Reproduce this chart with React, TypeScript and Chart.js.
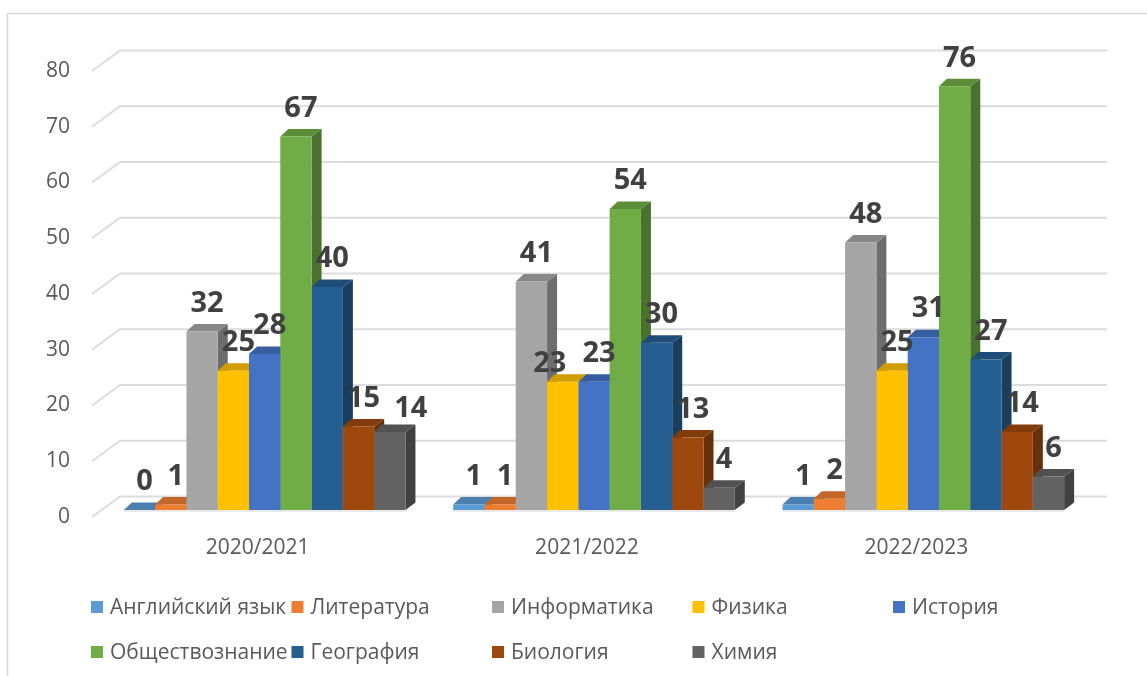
import React, { useEffect, useRef } from "react";
import { Chart, registerables } from "chart.js";

Chart.register(...registerables);

const categories = ["2020/2021", "2021/2022", "2022/2023"];
const seriesNames = [
  "Английский язык",
  "Литература",
  "Информатика",
  "Физика",
  "История",
  "Обществознание",
  "География",
  "Биология",
  "Химия",
];
const english = [0, 1, 1];
const literature = [1, 1, 2];
const informatics = [32, 41, 48];
const physics = [25, 23, 25];
const history = [28, 23, 31];
const socialStudies = [67, 54, 76];
const geography = [40, 30, 27];
const biology = [15, 13, 14];
const chemistry = [14, 4, 6];
const seriesValues = [english, literature, informatics, physics, history, socialStudies, geography, biology, chemistry];
const seriesColors = ["#5B9BD5", "#ED7D31", "#A5A5A5", "#FFC000", "#4472C4", "#70AD47", "#255E91", "#9E480E", "#636363"];
const yTicks = [0, 10, 20, 30, 40, 50, 60, 70, 80];

const FONT = '"Open Sans", "Liberation Sans", sans-serif';
const DX_L = 8;
const DX_R = 10;
const DY = 7.5;

function shade(hex: string, f: number) {
  const n = parseInt(hex.slice(1), 16);
  const r = Math.round(((n >> 16) & 255) * f);
  const g = Math.round(((n >> 8) & 255) * f);
  const b = Math.round((n & 255) * f);
  return `rgb(${r},${g},${b})`;
}

const decorPlugin = {
  id: "decor",
  beforeDraw(chart: any) {
    const ctx = chart.ctx;
    const area = chart.chartArea;
    const ys = chart.scales.y;
    const xs = chart.scales.x;
    ctx.save();
    // outer border
    ctx.strokeStyle = "#D9D9D9";
    ctx.lineWidth = 1.5;
    ctx.beginPath();
    ctx.moveTo(7.5, 676);
    ctx.lineTo(7.5, 13.5);
    ctx.lineTo(1147, 13.5);
    ctx.stroke();
    // walls / gridlines
    ctx.strokeStyle = "#DCDCDC";
    ctx.lineWidth = 2;
    const wallL = area.left + 20;
    const wallR = area.right + 19;
    const frontL = area.left - 8;
    yTicks.forEach((v) => {
      const y = ys.getPixelForValue(v);
      ctx.beginPath();
      ctx.moveTo(frontL, y + 7);
      ctx.lineTo(wallL, y - 13.5);
      ctx.lineTo(wallR, y - 13.5);
      ctx.stroke();
    });
    // y labels
    ctx.fillStyle = "#595959";
    ctx.font = `21px ${FONT}`;
    ctx.textAlign = "right";
    ctx.textBaseline = "middle";
    yTicks.forEach((v) => {
      const y = ys.getPixelForValue(v);
      ctx.fillText(String(v), 70, y + 7);
    });
    // category labels
    ctx.textAlign = "center";
    categories.forEach((c, i) => {
      const x = xs.getPixelForValue(i);
      ctx.fillText(c, x - 7, area.bottom + 38);
    });
    // legend
    const legendLeft = 91;
    const colW = 200.5;
    const rowY = [607, 652];
    ctx.textAlign = "left";
    seriesNames.forEach((name, k) => {
      const row = Math.floor(k / 5);
      const col = k % 5;
      const x = legendLeft + col * colW;
      const y = rowY[row];
      ctx.fillStyle = seriesColors[k];
      ctx.fillRect(x, y - 6, 12, 12);
      ctx.fillStyle = "#595959";
      ctx.fillText(name, x + 19, y + 1);
    });
    ctx.restore();
  },
  beforeDatasetsDraw(chart: any) {
    const ctx = chart.ctx;
    ctx.save();
    categories.forEach((_, i) => {
      let gl = Infinity;
      let gr = -Infinity;
      let gb = 0;
      seriesValues.forEach((_, j) => {
        const el = chart.getDatasetMeta(j).data[i];
        const p = el.getProps(["x", "y", "base", "width"], true);
        const L = p.x - p.width / 2;
        const R = p.x + p.width / 2;
        const top = p.y;
        const base = p.base;
        gl = Math.min(gl, L);
        gr = Math.max(gr, R);
        gb = base;
        const col = seriesColors[j];
        // side
        ctx.fillStyle = shade(col, 0.66);
        ctx.beginPath();
        ctx.moveTo(R, top);
        ctx.lineTo(R + DX_R, top - DY);
        ctx.lineTo(R + DX_R, base - DY);
        ctx.lineTo(R, base);
        ctx.closePath();
        ctx.fill();
        // top
        ctx.fillStyle = shade(col, 0.82);
        ctx.beginPath();
        ctx.moveTo(L, top);
        ctx.lineTo(L + DX_L, top - DY);
        ctx.lineTo(R + DX_R, top - DY);
        ctx.lineTo(R, top);
        ctx.closePath();
        ctx.fill();
      });
      ctx.strokeStyle = "#E3E3E3";
      ctx.lineWidth = 1.5;
      ctx.beginPath();
      ctx.moveTo(gl, gb + 1);
      ctx.lineTo(gr, gb + 1);
      ctx.stroke();
    });
    ctx.restore();
  },
  afterDatasetsDraw(chart: any) {
    const ctx = chart.ctx;
    ctx.save();
    ctx.fillStyle = "#404040";
    ctx.font = `bold 29px ${FONT}`;
    ctx.textAlign = "center";
    ctx.textBaseline = "middle";
    categories.forEach((_, i) => {
      const labels = seriesValues.map((vals, j) => {
        const p = chart.getDatasetMeta(j).data[i].getProps(["x", "y"], true);
        const text = String(vals[i]);
        return { x: p.x + 5, y: p.y - 28, v: vals[i], text, w: ctx.measureText(text).width };
      });
      // nudge neighbouring labels that would collide
      for (let k = 1; k < labels.length; k++) {
        const a = labels[k - 1];
        const b = labels[k];
        if (Math.abs(a.y - b.y) < 14 && b.x - a.x < (a.w + b.w) / 2) {
          if (a.v <= b.v) {
            a.x -= 18;
            a.y += 10;
          } else {
            b.x += 16;
            b.y += 5;
          }
        }
      }
      labels.forEach((l) => ctx.fillText(l.text, l.x, l.y));
    });
    ctx.restore();
  },
};

export default function App() {
  const ref = useRef<HTMLCanvasElement | null>(null);
  useEffect(() => {
    if (!ref.current) return;
    const chart = new Chart(ref.current, {
      type: "bar",
      data: {
        labels: categories,
        datasets: seriesNames.map((name, j) => ({
          label: name,
          data: seriesValues[j],
          backgroundColor: seriesColors[j],
          borderWidth: 0,
          categoryPercentage: 0.855,
          barPercentage: 1,
        })),
      },
      options: {
        animation: false,
        responsive: false,
        layout: { padding: { left: 100, right: 59, top: 64, bottom: 166 } },
        plugins: { legend: { display: false }, tooltip: { enabled: false } },
        scales: {
          x: { display: false },
          y: { display: false, min: 0, max: 80 },
        },
      },
      plugins: [decorPlugin],
    });
    return () => chart.destroy();
  }, []);
  return (
    <div style={{ position: "fixed", left: 0, top: 0, width: 1147, height: 676, background: "#fff" }}>
      <canvas ref={ref} width={1147} height={676} style={{ display: "block" }} />
    </div>
  );
}
